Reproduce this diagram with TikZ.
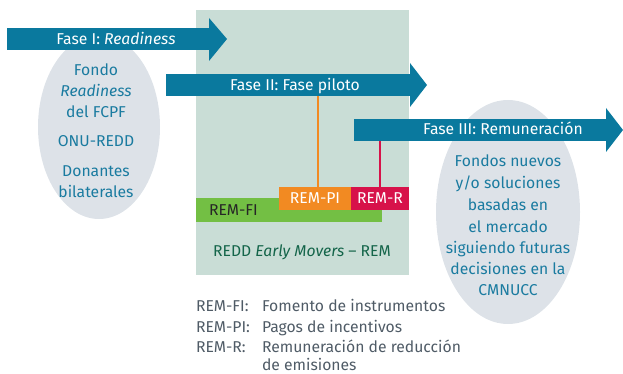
\documentclass[tikz,border=0pt]{standalone}
\usepackage{fontspec}
\setmainfont{Fira Sans}
\usetikzlibrary{calc}
\definecolor{bgc}{HTML}{C9DDD6}
\definecolor{ellc}{HTML}{DDE2E8}
\definecolor{arrc}{HTML}{0A799E}
\definecolor{elltxt}{HTML}{1A7BA0}
\definecolor{orc}{HTML}{F28A22}
\definecolor{redc}{HTML}{D7124A}
\definecolor{grc}{HTML}{73BF44}
\definecolor{dgreen}{HTML}{14654A}
\definecolor{legc}{HTML}{4F5B66}
\begin{document}
\begin{tikzpicture}[x=1pt,y=-1pt,
  every node/.style={inner sep=0pt, outer sep=0pt},
  base/.style={font=\fontsize{15.7}{18}\selectfont, anchor=base},
  body/.style={fill=arrc, minimum height=22pt, anchor=north west},
  atxt/.style={base, text=white},
  etxt/.style={base, text=elltxt},
  ltxt/.style={base, text=legc, anchor=base west},
  box/.style={minimum height=23pt, anchor=north west}]
\useasboundingbox (0,0) rectangle (623,374);
\fill[bgc] (196,10) rectangle (409,275);
\fill[ellc] (99,127) ellipse [x radius=61, y radius=92];
\fill[ellc] (508,212) ellipse [x radius=72, y radius=112];
% Arrow I
\node[body, minimum width=202pt] (a1) at (7,28) {};
\fill[arrc] (a1.north east) -- ++(0,-10) -- (227,39) -- ($(a1.south east)+(0,11)$) -- cycle;
% Arrow II
\node[body, minimum width=244pt] (a2) at (166,74) {};
\fill[arrc] (a2.north east) -- ++(0,-11) -- (427,85) -- ($(a2.south east)+(0,11)$) -- cycle;
% Arrow III
\node[body, minimum width=252pt] (a3) at (354,119) {};
\fill[arrc] (a3.north east) -- ++(0,-11) -- (623,130) -- ($(a3.south east)+(0,11)$) -- cycle;
\node[atxt] at (116,45) {Fase I: \textit{Readiness}};
\node[atxt] at (295,90.5) {Fase II: Fase piloto};
\node[atxt] at (503,135) {Fase III: Remuneración};
% bars
\node[box, fill=grc, minimum width=186pt, minimum height=24pt] (fi) at (196,198) {};
\node[box, fill=orc, minimum width=72pt] (pi) at (279,187) {};
\node[box, fill=redc, minimum width=58pt] (rr) at (351,187) {};
\node[base, text=black!85, anchor=base west] at (209,215.5) {REM-FI};
\node[base, text=white] at (315,204) {REM-PI};
\node[base, text=white] at (380,204) {REM-R};
\coordinate (xo) at (317.5,0);
\coordinate (xr) at (379.5,0);
\draw[orc, line width=2pt] (pi.north -| xo) -- (a2.south -| xo);
\draw[redc, line width=2pt] (rr.north -| xr) -- (a3.south -| xr);
\node[base, text=dgreen] at (302,256) {REDD \textit{Early Movers} – REM};
% ellipse texts
\node[etxt] at (96,76) {Fondo};
\node[etxt] at (96,97) {\textit{Readiness}};
\node[etxt] at (96,118) {del FCPF};
\node[etxt] at (96,147) {ONU-REDD};
\node[etxt] at (96,176.5) {Donantes};
\node[etxt] at (96,197.5) {bilaterales};
\node[etxt] at (508,167) {Fondos nuevos};
\node[etxt] at (508,189) {y/o soluciones};
\node[etxt] at (508,210) {basadas en};
\node[etxt] at (508,232) {el mercado};
\node[etxt] at (508,253) {siguiendo futuras};
\node[etxt] at (508,274) {decisiones en la};
\node[etxt] at (508,295) {CMNUCC};
% legend
\node[ltxt] at (196,311) {REM-FI:};
\node[ltxt] at (196,332) {REM-PI:};
\node[ltxt] at (196,352.5) {REM-R:};
\node[ltxt] at (262,311) {Fomento de instrumentos};
\node[ltxt] at (262,332) {Pagos de incentivos};
\node[ltxt] at (262,352.5) {Remuneración de reducción};
\node[ltxt] at (262,370) {de emisiones};
\end{tikzpicture}
\end{document}
